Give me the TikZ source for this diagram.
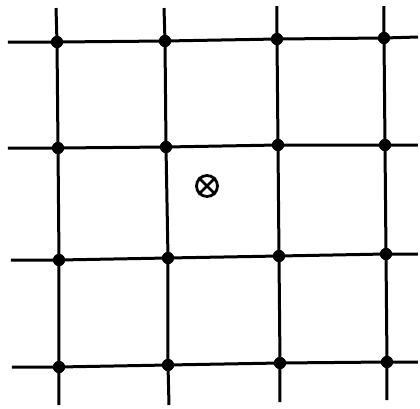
\documentclass[tikz,border=0pt]{standalone}
\begin{document}
\begin{tikzpicture}[x=0.5pt,y=-0.5pt,
  gridline/.style={line width=1.5pt,black},
  joint/.style={circle,fill=black,inner sep=0pt,minimum size=6pt},
  cross/.style={circle,draw=black,line width=1.4pt,inner sep=0pt,minimum size=10.5pt}]
\useasboundingbox (0,0) rectangle (420,409);
% intersections
\node[joint] (a11) at (57,42) {};
\node[joint] (a12) at (165,41) {};
\node[joint] (a13) at (277,39) {};
\node[joint] (a14) at (384,38) {};
\node[joint] (a21) at (58,148) {};
\node[joint] (a22) at (166,147) {};
\node[joint] (a23) at (278,145) {};
\node[joint] (a24) at (385,145) {};
\node[joint] (a31) at (59,260) {};
\node[joint] (a32) at (168,258) {};
\node[joint] (a33) at (279,256) {};
\node[joint] (a34) at (386,254) {};
\node[joint] (a41) at (59,367) {};
\node[joint] (a42) at (168,365) {};
\node[joint] (a43) at (280,363) {};
\node[joint] (a44) at (387,362) {};
% line ends
\coordinate (h1l) at (8,42);  \coordinate (h1r) at (418,37);
\coordinate (h2l) at (8,148); \coordinate (h2r) at (418,145);
\coordinate (h3l) at (11,260); \coordinate (h3r) at (418,254);
\coordinate (h4l) at (12,367); \coordinate (h4r) at (418,362);
\coordinate (v1t) at (56,8);  \coordinate (v1b) at (59,405);
\coordinate (v2t) at (164,8); \coordinate (v2b) at (169,405);
\coordinate (v3t) at (277,6); \coordinate (v3b) at (280,402);
\coordinate (v4t) at (384,6); \coordinate (v4b) at (387,400);
% horizontal lines
\draw[gridline] (h1l) -- (a11.center) -- (a12.center) -- (a13.center) -- (a14.center) -- (h1r);
\draw[gridline] (h2l) -- (a21.center) -- (a22.center) -- (a23.center) -- (a24.center) -- (h2r);
\draw[gridline] (h3l) -- (a31.center) -- (a32.center) -- (a33.center) -- (a34.center) -- (h3r);
\draw[gridline] (h4l) -- (a41.center) -- (a42.center) -- (a43.center) -- (a44.center) -- (h4r);
% vertical lines
\draw[gridline] (v1t) -- (a11.center) -- (a21.center) -- (a31.center) -- (a41.center) -- (v1b);
\draw[gridline] (v2t) -- (a12.center) -- (a22.center) -- (a32.center) -- (a42.center) -- (v2b);
\draw[gridline] (v3t) -- (a13.center) -- (a23.center) -- (a33.center) -- (a43.center) -- (v3b);
\draw[gridline] (v4t) -- (a14.center) -- (a24.center) -- (a34.center) -- (a44.center) -- (v4b);
% redraw joints on top
\foreach \n in {a11,a12,a13,a14,a21,a22,a23,a24,a31,a32,a33,a34,a41,a42,a43,a44}
  \fill (\n) circle (3pt);
% the cross-circle
\node[cross] (x) at (207,186) {};
\draw[line width=1.4pt] (x.north west) -- (x.south east);
\draw[line width=1.4pt] (x.north east) -- (x.south west);
\end{tikzpicture}
\end{document}
